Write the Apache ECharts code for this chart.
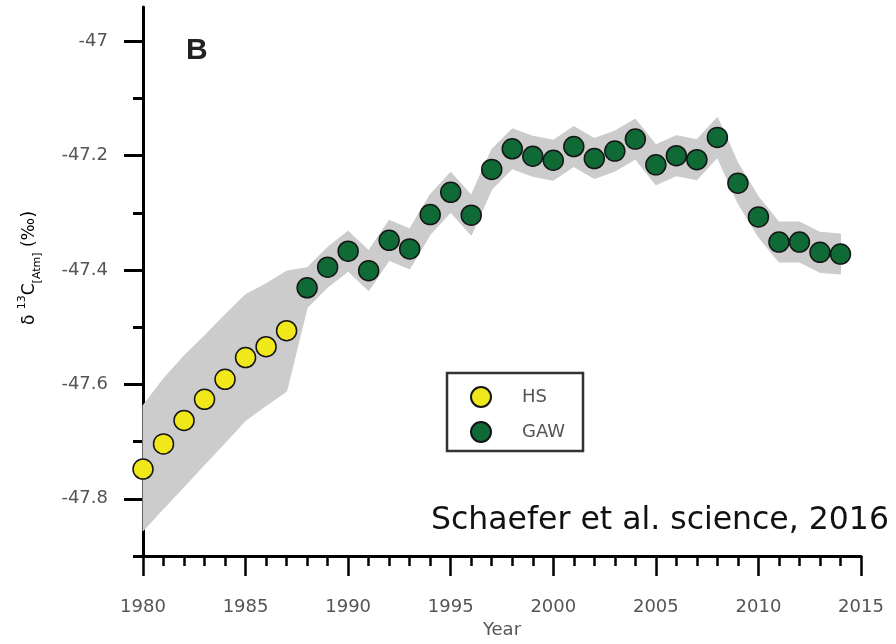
<!DOCTYPE html>
<html><head><meta charset="utf-8">
<script src="https://cdn.jsdelivr.net/npm/echarts@6/dist/echarts.min.js"></script>
<style>html,body{margin:0;padding:0;background:#fff}#c{width:896px;height:644px}</style>
</head><body><div id="c"></div>
<script>
// ---- data ----
const hsYears = [1980, 1981, 1982, 1983, 1984, 1985, 1986, 1987];
const hsValues = [-47.748, -47.704, -47.663, -47.626, -47.591, -47.553, -47.534, -47.506];

const gawYears = [1988, 1989, 1990, 1991, 1992, 1993, 1994, 1995, 1996, 1997, 1998, 1999, 2000, 2001,
  2002, 2003, 2004, 2005, 2006, 2007, 2008, 2009, 2010, 2011, 2012, 2013, 2014];
const gawValues = [-47.431, -47.395, -47.367, -47.401, -47.348, -47.363, -47.303, -47.264, -47.304, -47.224,
  -47.188, -47.201, -47.208, -47.184, -47.205, -47.192, -47.171, -47.216, -47.200, -47.207,
  -47.168, -47.248, -47.307, -47.351, -47.351, -47.369, -47.372];

const bandYears = [1980, 1981, 1982, 1983, 1984, 1985, 1986, 1987, 1988, 1989, 1990, 1991, 1992, 1993,
  1994, 1995, 1996, 1997, 1998, 1999, 2000, 2001, 2002, 2003, 2004, 2005, 2006, 2007, 2008,
  2009, 2010, 2011, 2012, 2013, 2014];
const bandUpper = [-47.637, -47.590, -47.550, -47.515, -47.478, -47.443, -47.424, -47.402, -47.396,
  -47.360, -47.332, -47.366, -47.313, -47.328, -47.268, -47.229, -47.269, -47.189, -47.153,
  -47.166, -47.173, -47.149, -47.170, -47.157, -47.136, -47.181, -47.165, -47.172, -47.133,
  -47.213, -47.272, -47.316, -47.316, -47.334, -47.337];
const bandLower = [-47.856, -47.817, -47.779, -47.740, -47.702, -47.663, -47.637, -47.612, -47.466,
  -47.430, -47.402, -47.436, -47.383, -47.398, -47.338, -47.299, -47.339, -47.259, -47.223,
  -47.236, -47.243, -47.219, -47.240, -47.227, -47.206, -47.251, -47.235, -47.242, -47.203,
  -47.283, -47.342, -47.386, -47.386, -47.404, -47.407];

const yMajorTicks = [-47.8, -47.6, -47.4, -47.2, -47.0];
const yMinorTicks = [-47.9, -47.7, -47.5, -47.3, -47.1];
const legendNames = ['HS', 'GAW'];
const xTitle = 'Year';
const panelLabel = 'B';
const sourceText = 'Schaefer et al. science, 2016';

// ---- chart ----
const chart = echarts.init(document.getElementById('c'), null, {renderer: 'canvas'});
const labelFont = 'DejaVu Sans';
const labelColor = '#555';

const option = {
  animation: false,
  backgroundColor: '#fff',
  grid: {left: 143, right: 35, top: 7, bottom: 87},
  xAxis: {
    type: 'value', min: 1980, max: 2015, interval: 5,
    axisLine: {lineStyle: {color: '#000', width: 3}},
    axisTick: {length: 20, lineStyle: {color: '#000', width: 2.5}},
    minorTick: {show: true, splitNumber: 5, length: 10, lineStyle: {color: '#000', width: 2.5}},
    splitLine: {show: false},
    axisLabel: {margin: 42, fontSize: 18, color: labelColor, fontFamily: labelFont, formatter: v => String(v)},
    name: xTitle, nameLocation: 'middle', nameGap: 65,
    nameTextStyle: {fontSize: 18, color: labelColor, fontFamily: labelFont}
  },
  yAxis: [{
    type: 'value', min: -47.9, max: -46.94, position: 'left',
    axisLine: {show: true, lineStyle: {color: '#000', width: 3}},
    axisTick: {show: true, customValues: yMajorTicks, length: 19, lineStyle: {color: '#000', width: 3}},
    axisLabel: {customValues: yMajorTicks, margin: 35, fontSize: 18, color: labelColor, fontFamily: labelFont,
      formatter: v => (Math.abs(v - Math.round(v)) < 1e-9 ? String(Math.round(v)) : v.toFixed(1))},
    splitLine: {show: false}
  }, {
    type: 'value', min: -47.9, max: -46.94, position: 'left', offset: 0,
    axisLine: {show: false},
    axisTick: {show: true, customValues: yMinorTicks, length: 10, lineStyle: {color: '#000', width: 3}},
    axisLabel: {show: false},
    splitLine: {show: false}
  }],
  legend: {
    data: legendNames,
    orient: 'vertical', left: 470, top: 386, padding: 0,
    itemWidth: 20, itemHeight: 20, itemGap: 13,
    textStyle: {fontSize: 18, color: labelColor, fontFamily: labelFont, padding: [0, 0, 0, 26]}
  },
  graphic: [
    {type: 'rect', shape: {x: 447, y: 373, width: 136, height: 78},
      style: {fill: 'none', stroke: '#333', lineWidth: 2.5}, z: 100},
    {type: 'text', x: 186, y: 36,
      style: {text: panelLabel, font: 'bold 30px "Liberation Sans Narrow", "Liberation Sans", sans-serif', fill: '#222'}},
    {type: 'text', x: 431, y: 537,
      style: {text: sourceText, font: '31.5px "DejaVu Sans", sans-serif', fill: '#111', verticalAlign: 'bottom'}},
    {type: 'text', x: 30, y: 268, rotation: Math.PI / 2,
      style: {
        text: '{a|δ }{b|13}{a|C}{c|[Atm]}{a| (‰)}',
        align: 'center', verticalAlign: 'middle',
        rich: {
          a: {fontSize: 17, color: '#777', fontFamily: labelFont, lineHeight: 26},
          b: {fontSize: 11, color: '#777', fontFamily: labelFont, lineHeight: 26, verticalAlign: 'top'},
          c: {fontSize: 11, color: '#777', fontFamily: labelFont, lineHeight: 26, verticalAlign: 'bottom'}
        }
      }}
  ],
  series: [
    {
      name: 'band', type: 'custom', silent: true, z: 1,
      data: bandYears.map((x, i) => [x, bandLower[i], bandUpper[i]]),
      encode: {x: 0, y: [1, 2]},
      renderItem: function (params, api) {
        if (params.dataIndex !== 0) return null;
        const top = [], bottom = [];
        for (let i = 0; i < bandYears.length; i++) {
          top.push(api.coord([bandYears[i], bandUpper[i]]));
          bottom.push(api.coord([bandYears[i], bandLower[i]]));
        }
        return {
          type: 'polygon',
          shape: {points: top.concat(bottom.reverse())},
          style: {fill: '#cccccc', stroke: '#cccccc', lineWidth: 1}
        };
      }
    },
    {
      name: 'HS', type: 'scatter', symbol: 'circle', symbolSize: 20,
      data: hsYears.map((x, i) => [x, hsValues[i]]),
      itemStyle: {color: '#f1e81c', borderColor: '#151515', borderWidth: 1.5, opacity: 1}, z: 3
    },
    {
      name: 'GAW', type: 'scatter', symbol: 'circle', symbolSize: 20,
      data: gawYears.map((x, i) => [x, gawValues[i]]),
      itemStyle: {color: '#0f6a36', borderColor: '#151515', borderWidth: 1.5, opacity: 1}, z: 3
    }
  ]
};
chart.setOption(option);
</script>
</body></html>
